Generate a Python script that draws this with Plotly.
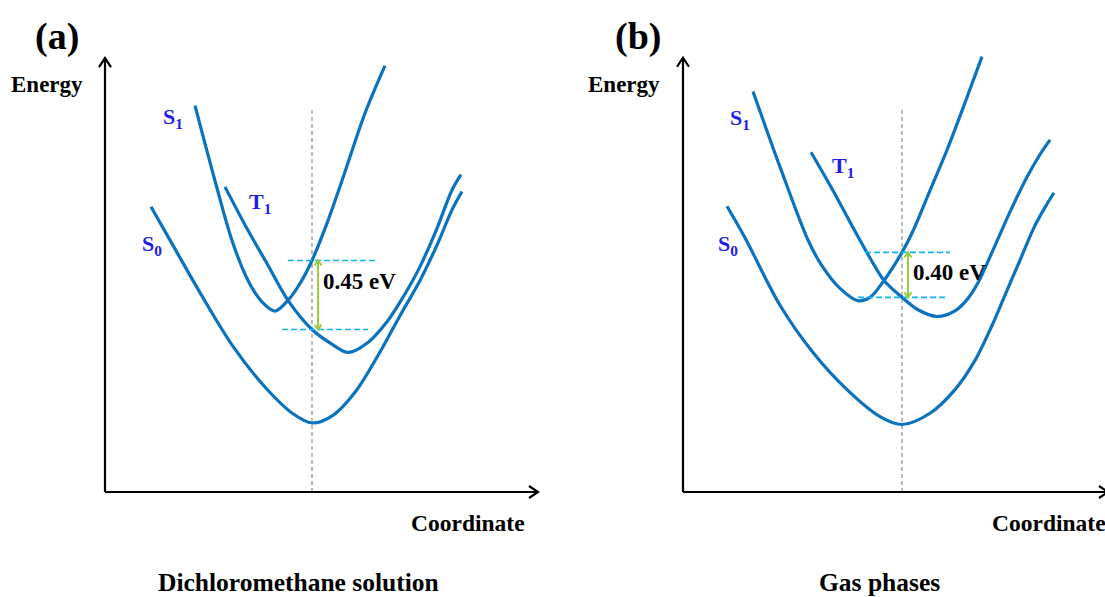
import plotly.graph_objects as go

# ---------------- Potential-energy curves (Q: reaction coordinate, E: eV) ----------------
# (a) Dichloromethane solution
q_s0_a = [0.46, 0.67, 0.95, 1.28, 1.62, 1.88, 2.07, 2.28, 2.50, 2.73, 2.95, 3.15, 3.32, 3.47, 3.57]
e_s0_a = [1.86, 1.62, 1.30, 0.95, 0.67, 0.51, 0.45, 0.50, 0.65, 0.89, 1.15, 1.38, 1.61, 1.84, 1.96]

q_s1_a = [0.90, 1.10, 1.27, 1.43, 1.57, 1.70, 1.83, 1.95, 2.07, 2.23, 2.38, 2.60, 2.80]
e_s1_a = [2.52, 2.03, 1.64, 1.38, 1.24, 1.18, 1.25, 1.36, 1.51, 1.77, 2.05, 2.47, 2.78]

q_t1_a = [1.20, 1.41, 1.62, 1.83, 2.07, 2.28, 2.43, 2.62, 2.82, 2.98, 3.15, 3.32, 3.47, 3.56]
e_t1_a = [1.99, 1.73, 1.49, 1.25, 1.06, 0.96, 0.91, 0.97, 1.11, 1.27, 1.47, 1.72, 1.97, 2.07]

# (b) Gas phase
q_s0_b = [0.44, 0.62, 0.97, 1.30, 1.64, 1.97, 2.19, 2.47, 2.72, 2.92, 3.09, 3.22, 3.37, 3.52, 3.64, 3.71]
e_s0_b = [2.54, 2.26, 1.66, 1.24, 0.91, 0.67, 0.60, 0.70, 0.91, 1.17, 1.48, 1.75, 2.06, 2.37, 2.56, 2.66]

q_s1_b = [0.70, 0.97, 1.25, 1.39, 1.57, 1.75, 1.87, 2.01, 2.19, 2.30, 2.47, 2.64, 2.82, 2.99]
e_s1_b = [3.56, 2.89, 2.24, 2.01, 1.81, 1.70, 1.73, 1.88, 2.13, 2.32, 2.68, 3.04, 3.46, 3.87]

q_t1_b = [1.28, 1.50, 1.70, 1.87, 2.01, 2.19, 2.35, 2.54, 2.72, 2.84, 2.95, 3.10, 3.27, 3.44, 3.57, 3.67]
e_t1_b = [3.02, 2.68, 2.35, 2.08, 1.88, 1.73, 1.62, 1.56, 1.61, 1.71, 1.86, 2.15, 2.49, 2.80, 3.00, 3.13]

# Vertical excitation coordinate (S0 minimum) and the S1 / T1 energies on it
q_vert = {"a": 2.07, "b": 2.19}
e_s1_level = {"a": 1.51, "b": 2.13}
e_t1_level = {"a": 1.06, "b": 1.73}

panel_titles = {"a": "Dichloromethane solution", "b": "Gas phases"}
panel_tags = {"a": "(a)", "b": "(b)"}

# ---------------- Styling / layout ----------------
W, H = 1105, 597
CURVE = "#0A72BE"
LABEL = "#1E1EE6"
CYAN = "#12B4EE"
GREEN = "#9ACD3C"
GRAY = "#A0A0A0"
FONT = "Liberation Serif, Times New Roman, serif"

# per panel: x-domain, pixel origin of the axes corner, px per unit Q / per eV,
# axis arrow extents (in data units) and top of the vertical guide line
panels = {
    "a": dict(xa="x", ya="y", dom=[0.0, 0.5], ox=105, oy=492, sx=100.0, sy=69 / 0.45,
              x_end=4.33, y_end=2.83, v_top=2.51),
    "b": dict(xa="x2", ya="y2", dom=[0.5, 1.0], ox=683, oy=492, sx=100.0, sy=45 / 0.40,
              x_end=4.25, y_end=3.86, v_top=3.42),
}

curves = {
    "a": [(q_s0_a, e_s0_a), (q_s1_a, e_s1_a), (q_t1_a, e_t1_a)],
    "b": [(q_s0_b, e_s0_b), (q_s1_b, e_s1_b), (q_t1_b, e_t1_b)],
}

fig = go.Figure()


def chevron(p, tip_q, tip_e, ux, uy, length, half, color, width):
    """Open arrow head; (ux, uy) is the pointing direction in screen pixels."""
    nx, ny = -uy, ux
    pts = []
    for s in (1, -1):
        bx = -ux * length + s * nx * half
        by = -uy * length + s * ny * half
        pts.append((tip_q + bx / p["sx"], tip_e - by / p["sy"]))
    fig.add_trace(go.Scatter(
        x=[pts[0][0], tip_q, pts[1][0]], y=[pts[0][1], tip_e, pts[1][1]],
        mode="lines", line=dict(color=color, width=width),
        xaxis=p["xa"], yaxis=p["ya"], hoverinfo="skip", showlegend=False))


def seg(p, xs, ys, color, width, dash="solid"):
    fig.add_trace(go.Scatter(
        x=xs, y=ys, mode="lines", line=dict(color=color, width=width, dash=dash),
        xaxis=p["xa"], yaxis=p["ya"], hoverinfo="skip", showlegend=False))


annotations = []
for key, p in panels.items():
    q0 = q_vert[key]
    # vertical guide through the S0 minimum
    seg(p, [q0, q0], [0, p["v_top"]], GRAY, 1.4, "4px,3px")

    # potential-energy curves
    for q, e in curves[key]:
        fig.add_trace(go.Scatter(
            x=q, y=e, mode="lines",
            line=dict(color=CURVE, width=3.2, shape="spline", smoothing=0.9),
            xaxis=p["xa"], yaxis=p["ya"], hoverinfo="skip", showlegend=False))

    # axes with arrow heads
    seg(p, [0, p["x_end"]], [0, 0], "black", 2.2)
    seg(p, [0, 0], [0, p["y_end"]], "black", 2.2)
    chevron(p, p["x_end"], 0, 1, 0, 9, 6, "black", 2.2)
    chevron(p, 0, p["y_end"], 0, -1, 9, 6, "black", 2.2)

    # S1 / T1 levels on the vertical line and the energy gap
    es1, et1 = e_s1_level[key], e_t1_level[key]
    gap = es1 - et1
    if key == "a":
        seg(p, [q0 - 0.24, q0 + 0.63], [es1, es1], CYAN, 1.6, "6px,3px")
        seg(p, [q0 - 0.30, q0 + 0.56], [et1, et1], CYAN, 1.6, "6px,3px")
        txt_e = (es1 + et1) / 2 + 0.09
    else:
        seg(p, [q0 - 0.37, q0 + 0.48], [es1, es1], CYAN, 1.6, "6px,3px")
        seg(p, [q0 - 0.44, q0 + 0.43], [et1, et1], CYAN, 1.6, "6px,3px")
        txt_e = (es1 + et1) / 2 + 0.02
    qa = q0 + 0.06
    seg(p, [qa, qa], [et1, es1], GREEN, 2)
    chevron(p, qa, es1, 0, -1, 5, 3.5, GREEN, 2)
    chevron(p, qa, et1, 0, 1, 5, 3.5, GREEN, 2)
    annotations.append(dict(
        x=q0 + 0.09, y=txt_e, xref=p["xa"], yref=p["ya"], xanchor="left", yanchor="middle",
        text=f"<b>{gap:.2f} eV</b>", showarrow=False,
        font=dict(family=FONT, size=23, color="black")))

# state labels
state_labels = {
    "a": [("S", "1", 0.68, 2.44), ("T", "1", 1.55, 1.885), ("S", "0", 0.47, 1.61)],
    "b": [("S", "1", 0.57, 3.32), ("T", "1", 1.60, 2.89), ("S", "0", 0.45, 2.20)],
}
for key, items in state_labels.items():
    p = panels[key]
    for letter, sub, q, e in items:
        annotations.append(dict(
            x=q, y=e, xref=p["xa"], yref=p["ya"], xanchor="center", yanchor="middle",
            text=f"<b>{letter}<sub>{sub}</sub></b>", showarrow=False,
            font=dict(family=FONT, size=22, color=LABEL)))


# panel tags, axis names and captions (pixel positions -> paper fractions)
def paper_text(px, py, text, size):
    annotations.append(dict(
        x=px / W, y=1 - py / H, xref="paper", yref="paper",
        xanchor="center", yanchor="middle", text=f"<b>{text}</b>", showarrow=False,
        font=dict(family=FONT, size=size, color="black")))


paper_text(57, 36, panel_tags["a"], 38)
paper_text(638, 36, panel_tags["b"], 38)
paper_text(47, 85, "Energy", 23)
paper_text(624, 85, "Energy", 23)
paper_text(468, 523, "Coordinate", 23.5)
paper_text(1049, 523, "Coordinate", 23.5)
paper_text(298, 582, panel_titles["a"], 25.5)
paper_text(880, 582, panel_titles["b"], 25.5)

layout_axes = {}
for key, p in panels.items():
    d0, d1 = p["dom"]
    xr = [(d0 * W - p["ox"]) / p["sx"], (d1 * W - p["ox"]) / p["sx"]]
    yr = [(p["oy"] - H) / p["sy"], p["oy"] / p["sy"]]
    xname = "xaxis" if p["xa"] == "x" else "xaxis2"
    yname = "yaxis" if p["ya"] == "y" else "yaxis2"
    layout_axes[xname] = dict(domain=[d0, d1], range=xr, visible=False, fixedrange=True,
                              anchor=p["ya"])
    layout_axes[yname] = dict(domain=[0, 1], range=yr, visible=False, fixedrange=True,
                              anchor=p["xa"])

fig.update_layout(
    width=W, height=H,
    margin=dict(l=0, r=0, t=0, b=0),
    paper_bgcolor="white", plot_bgcolor="white",
    showlegend=False,
    annotations=annotations,
    **layout_axes,
)

fig.write_html("out.html")
